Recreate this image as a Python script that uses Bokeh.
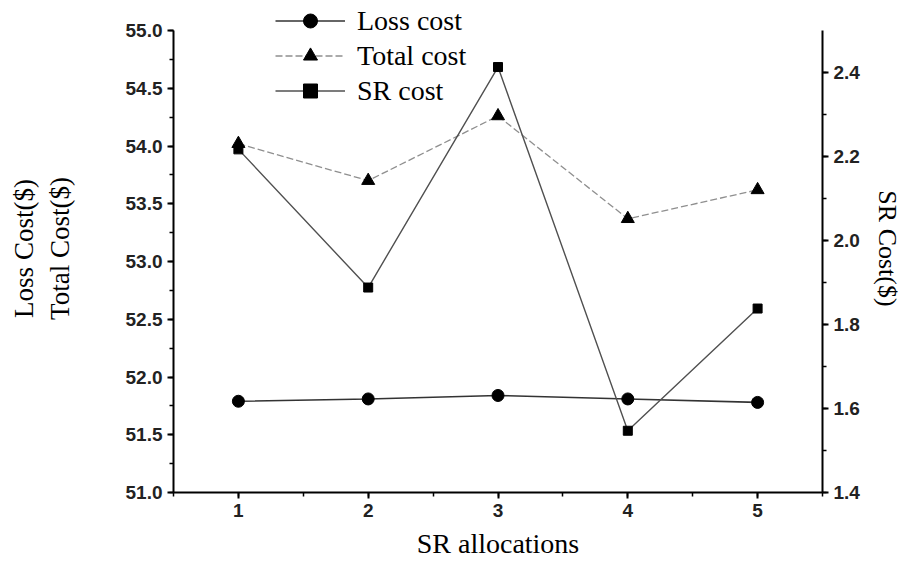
from bokeh.plotting import figure
from bokeh.models import (LinearAxis, Range1d, SingleIntervalTicker,
                          NumeralTickFormatter, Legend, LegendItem)
from bokeh.embed import file_html
from bokeh.resources import INLINE

# ---- data ----
allocations = [1, 2, 3, 4, 5]
loss_cost = [51.79, 51.81, 51.84, 51.81, 51.78]
total_cost = [54.02, 53.70, 54.26, 53.37, 53.62]
sr_cost = [2.217, 1.888, 2.413, 1.547, 1.838]

x_label = "SR allocations"
left_label = "Loss Cost($)\nTotal Cost($)"
right_label = "SR Cost($)"

left_bounds = (51, 55)
right_bounds = (1.4, 2.5)

# frame extends above the axes' top so the legend (which sits above the axes)
# is not clipped; axes are limited to their bounds
AXIS_PX = 462
FRAME_PX = 488
left_top = left_bounds[0] + (left_bounds[1] - left_bounds[0]) * FRAME_PX / AXIS_PX
right_top = right_bounds[0] + (right_bounds[1] - right_bounds[0]) * FRAME_PX / AXIS_PX

p = figure(frame_width=649, frame_height=FRAME_PX,
           x_range=Range1d(0.5, 5.5), y_range=Range1d(left_bounds[0], left_top),
           output_backend="svg", toolbar_location=None,
           min_border_left=173, min_border_right=78,
           min_border_top=4, min_border_bottom=70)
p.extra_y_ranges = {"sr": Range1d(right_bounds[0], right_top)}
p.outline_line_color = None
p.xgrid.visible = False
p.ygrid.visible = False
p.background_fill_color = "white"

r1l = p.line(allocations, loss_cost, line_color="#333333", line_width=1.6)
r1s = p.scatter(allocations, loss_cost, marker="circle", size=12, color="black")
r2l = p.line(allocations, total_cost, line_color="#8f8f8f", line_width=1.3,
             line_dash="7 3")
r2s = p.scatter(allocations, total_cost, marker="triangle", size=13, color="black")
r3l = p.line(allocations, sr_cost, y_range_name="sr", line_color="#505050",
             line_width=1.4)
r3s = p.scatter(allocations, sr_cost, y_range_name="sr", marker="square",
                size=9, color="black")

legend = Legend(items=[
    LegendItem(label="Loss cost", renderers=[r1l, r1s]),
    LegendItem(label="Total cost", renderers=[r2l, r2s]),
    LegendItem(label="SR cost", renderers=[r3l, r3s]),
], location=(102, 384), glyph_width=70, glyph_height=35, label_height=35,
   label_standoff=12, spacing=0, padding=0, margin=0,
   label_text_font="Liberation Serif", label_text_font_size="28px",
   label_text_color="black", border_line_color=None,
   background_fill_alpha=0)
p.add_layout(legend)

right_axis = LinearAxis(y_range_name="sr")
p.add_layout(right_axis, "right")

p.xaxis.ticker = SingleIntervalTicker(interval=1, num_minor_ticks=2)
p.yaxis[0].ticker = SingleIntervalTicker(interval=0.5, num_minor_ticks=2)
p.yaxis[0].formatter = NumeralTickFormatter(format="0.0")
p.yaxis[0].bounds = left_bounds
right_axis.ticker = SingleIntervalTicker(interval=0.2, num_minor_ticks=2)
right_axis.formatter = NumeralTickFormatter(format="0.0")
right_axis.bounds = right_bounds

for ax in [p.xaxis[0], p.yaxis[0], right_axis]:
    ax.axis_line_width = 2
    ax.axis_line_color = "black"
    ax.major_tick_line_width = 2
    ax.minor_tick_line_width = 1.5
    ax.major_tick_in = 0
    ax.major_tick_out = 6
    ax.minor_tick_in = 0
    ax.minor_tick_out = 4
    ax.major_label_text_font = "Liberation Sans"
    ax.major_label_text_font_style = "bold"
    ax.major_label_text_font_size = "19px"
    ax.major_label_text_color = "#222222"
    ax.major_label_standoff = 5
    ax.axis_label_text_font = "Liberation Serif"
    ax.axis_label_text_font_style = "normal"
    ax.axis_label_text_color = "black"

p.xaxis.axis_label = x_label
p.xaxis.axis_label_text_font_size = "28px"
p.xaxis.axis_label_standoff = 8
p.yaxis[0].axis_label = left_label
p.yaxis[0].axis_label_text_font_size = "27px"
p.yaxis[0].axis_label_standoff = 48
right_axis.axis_label = right_label
right_axis.axis_label_text_font_size = "26px"
right_axis.axis_label_standoff = 10

open("out.html", "w").write(file_html(p, INLINE))
